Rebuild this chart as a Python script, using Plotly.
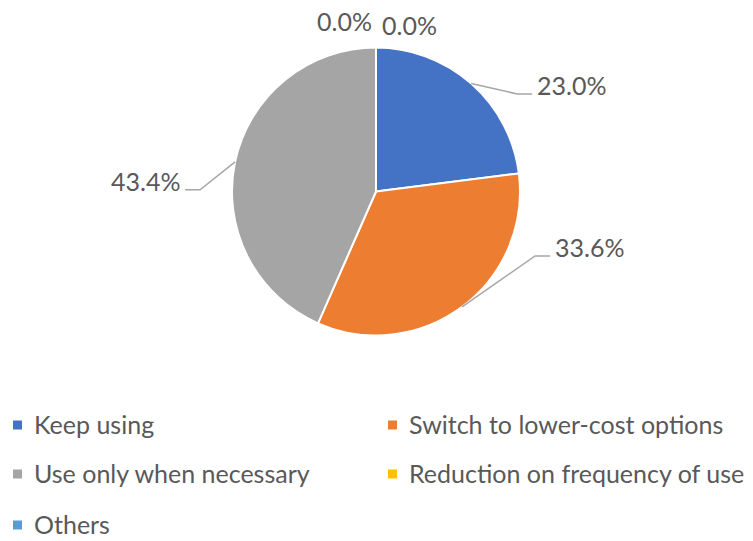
import math
import plotly.graph_objects as go

# ---- data ----
categories = ["Keep using", "Switch to lower-cost options", "Use only when necessary",
              "Reduction on frequency of use", "Others"]
values = [23.0, 33.6, 43.4, 0.0, 0.0]
colors = ["#4472C4", "#ED7D31", "#A5A5A5", "#FFC000", "#5B9BD5"]

# ---- layout / style ----
W, H = 753, 541
CX, CY, R = 376, 191.5, 144          # pie centre and radius in px
FONT = "Lato"
TXT = "#595959"
LEAD = "#A6A6A6"
LABEL_SIZE = 25
LEGEND_SIZE = 25
# elbow offsets (px) for leader lines, relative to the slice-edge point
leader_offsets = [(46, 10.5), (73, -51), (-35, 28), None, None]
zero_label_offsets = [(-31, -27), (34, -23)]


def px(x, y):
    return x / W, 1 - y / H


fig = go.Figure()
x0, y0 = px(CX - R, CY + R)
x1, y1 = px(CX + R, CY - R)
fig.add_trace(go.Pie(
    labels=categories, values=values, sort=False, direction="clockwise", rotation=0,
    marker=dict(colors=colors, line=dict(color="white", width=2)),
    textinfo="none", hoverinfo="label+percent", showlegend=False,
    domain=dict(x=[x0, x1], y=[y0, y1]),
))

annotations = []
shapes = []
total = sum(values)
cum = 0.0
zero_i = 0
for i, v in enumerate(values):
    pct = v / total * 100
    mid = (cum + v / 2) / total * 2 * math.pi
    cum += v
    ex, ey = CX + R * math.sin(mid), CY - R * math.cos(mid)
    text = f"{pct:.1f}%"
    if v == 0:
        dx, dy = zero_label_offsets[zero_i]
        zero_i += 1
        lx, ly = px(ex + dx, ey + dy)
        annotations.append(dict(x=lx, y=ly, xref="paper", yref="paper", text=text,
                                showarrow=False, xanchor="center", yanchor="middle",
                                font=dict(family=FONT, size=LABEL_SIZE, color=TXT)))
        continue
    dx, dy = leader_offsets[i]
    bx, by = ex + dx, ey + dy
    side = 1 if dx > 0 else -1
    tx = bx + side * 15
    p = [px(ex, ey), px(bx, by), px(tx, by)]
    path = "M {} {} L {} {} L {} {}".format(p[0][0], p[0][1], p[1][0], p[1][1], p[2][0], p[2][1])
    shapes.append(dict(type="path", path=path, xref="paper", yref="paper",
                       line=dict(color=LEAD, width=1.5)))
    lx, ly = px(tx + side * 3, by - 9)
    annotations.append(dict(x=lx, y=ly, xref="paper", yref="paper", text=text,
                            showarrow=False, xanchor="left" if side > 0 else "right",
                            yanchor="middle",
                            font=dict(family=FONT, size=LABEL_SIZE, color=TXT)))

# ---- manual two-column legend ----
col_x = [13, 388]
row_y = [425, 474, 525]
SW = 9
for i, (name, c) in enumerate(zip(categories, colors)):
    cx = col_x[i % 2]
    ry = row_y[i // 2]
    a, b = px(cx, ry - SW / 2)
    c2, d = px(cx + SW, ry + SW / 2)
    shapes.append(dict(type="rect", xref="paper", yref="paper", x0=a, x1=c2, y0=d, y1=b,
                       fillcolor=c, line=dict(width=0)))
    tx, ty = px(cx + SW + 10, ry - 1)
    annotations.append(dict(x=tx, y=ty, xref="paper", yref="paper", text=name,
                            showarrow=False, xanchor="left", yanchor="middle",
                            font=dict(family=FONT, size=LEGEND_SIZE, color=TXT)))

fig.update_layout(
    width=W, height=H, margin=dict(l=0, r=0, t=0, b=0),
    paper_bgcolor="white", plot_bgcolor="white",
    annotations=annotations, shapes=shapes, showlegend=False,
)
fig.write_html("out.html")
